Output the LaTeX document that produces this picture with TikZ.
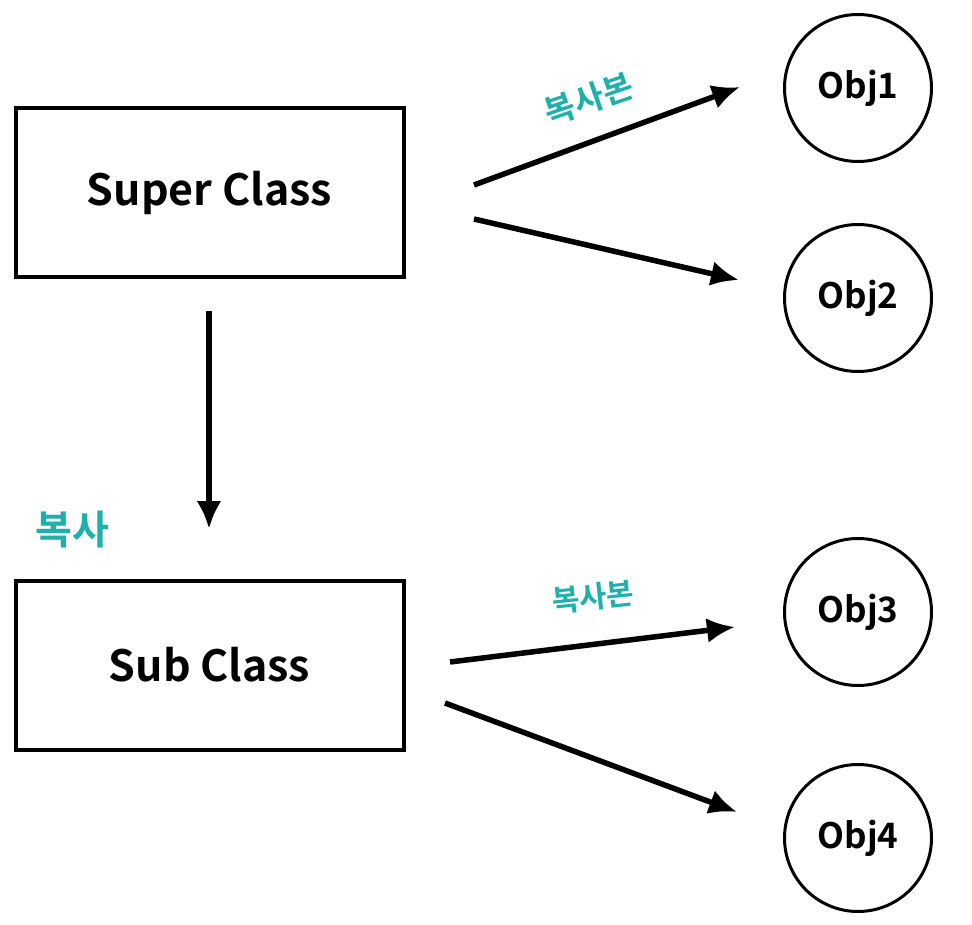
\documentclass[tikz,border=0pt]{standalone}
\usepackage{fontspec}
\setmainfont{Noto Sans CJK KR Bold}
\usetikzlibrary{arrows.meta}
\definecolor{copyteal}{RGB}{30,176,170}

\begin{document}
\begin{tikzpicture}
  [x=1pt,y=-1pt,
   classbox/.style={draw,line width=4pt,minimum width=388pt,minimum height=169pt,font=\fontsize{43}{47}\selectfont},
   objnode/.style={circle,draw,line width=3pt,minimum size=147pt,inner sep=0pt,font=\fontsize{35}{39}\selectfont},
   copyarrow/.style={line width=5.5pt,-{Latex[length=28pt,width=25pt]}},
   copylabel/.style={text=copyteal,font=\fontsize{33}{36}\selectfont}]
  \useasboundingbox (0,0) rectangle (972,925);

  \node[classbox] (super) at (209.5,193) {Super Class};
  \node[classbox] (sub) at (209.5,665) {Sub Class};

  \node[objnode] (obj1) at (858,88)  {Obj1};
  \node[objnode] (obj2) at (858,298) {Obj2};
  \node[objnode] (obj3) at (858,612) {Obj3};
  \node[objnode] (obj4) at (858,838) {Obj4};

  % free arrow ends
  \coordinate (a1) at (474,185);  \coordinate (b1) at (740,87);
  \coordinate (a2) at (474,219);  \coordinate (b2) at (739,280);
  \coordinate (a3) at (450,662);  \coordinate (b3) at (735,627);
  \coordinate (a4) at (445,703);  \coordinate (b4) at (737,812);
  \coordinate (down1) at (209,311); \coordinate (down2) at (209,529);

  \foreach \from/\to in {a1/b1,a2/b2,a3/b3,a4/b4,down1/down2}
    \draw[copyarrow] (\from) -- (\to);

  \node[copylabel,rotate=19] (copy1) at (589,99) {복사본};
  \node[copylabel,rotate=6,font=\fontsize{30}{34}\selectfont] (copy2) at (593,597) {복사본};
  \node[copylabel,font=\fontsize{40}{44}\selectfont] (copy0) at (72,530) {복사};

\end{tikzpicture}
\end{document}
